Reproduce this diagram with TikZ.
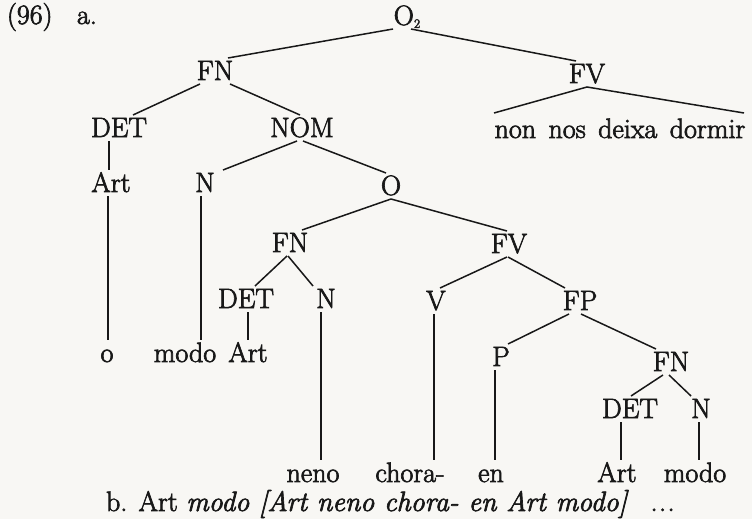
\documentclass[tikz,border=0pt]{standalone}
\usepackage{fontspec}
\setmainfont{Latin Modern Roman}[FakeBold=2.4]
\usetikzlibrary{calc}
\definecolor{paper}{RGB}{248,247,244}
\definecolor{ink}{RGB}{24,24,24}
\begin{document}
\begin{tikzpicture}[x=1pt,y=-1pt,
  lbl/.style={font=\fontsize{28}{32}\selectfont, text=ink, inner sep=3pt, outer sep=0pt,
              text height=19pt, text depth=1pt, anchor=base},
  br/.style={line width=1.5pt, draw=ink}]
\useasboundingbox (0,0) rectangle (752,519);
\fill[paper] (0,0) rectangle (752,519);

% header
\node[lbl,anchor=base west] (num) at (4,24) {(96)};
\node[lbl,anchor=base west] (alab) at (74,24) {a.};

% tree labels
\node[lbl] (O2) at (407,25) {O\raisebox{-3pt}{\fontsize{13}{13}\selectfont 2}};
\node[lbl] (FN1) at (215,80) {FN};
\node[lbl] (FV1) at (587,83) {FV};
\node[lbl] (nnd) at (620,138) {non\hspace{4pt} nos\hspace{4pt} deixa\hspace{4pt} dormir};
\node[lbl] (DET1) at (119,137) {DET};
\node[lbl] (NOM1) at (302,137) {NOM};
\node[lbl] (Art1) at (111,192) {Art};
\node[lbl] (N1) at (205,192) {N};
\node[lbl] (O) at (391,195) {O};
\node[lbl] (FN2) at (290,252) {FN};
\node[lbl] (FV2) at (509,253) {FV};
\node[lbl] (DET2) at (246,308) {DET};
\node[lbl] (N2) at (326,308) {N};
\node[lbl] (V) at (436,310) {V};
\node[lbl] (FP) at (580,310) {FP};
\node[lbl] (o) at (107,362) {o};
\node[lbl] (modo1) at (185,362) {modo};
\node[lbl] (Art2) at (248,362) {Art};
\node[lbl] (P) at (501,366) {P};
\node[lbl] (FN3) at (671,371) {FN};
\node[lbl] (DET3) at (630,418) {DET};
\node[lbl] (N3) at (701,418) {N};
\node[lbl] (neno) at (313,482) {neno};
\node[lbl] (chora) at (410,482) {chora-};
\node[lbl] (en) at (491,482) {en};
\node[lbl] (Art3) at (617,482) {Art};
\node[lbl] (modo3) at (695,482) {modo};

% b. line
\node[lbl,anchor=base west] (bline) at (103,511)
  {b. Art \textit{modo [Art neno chora- en Art modo]}\hspace{22pt}.\hspace{1.5pt}.\hspace{1.5pt}.};

% branches
\draw[br] ([xshift=-14pt]O2.south) -- ([xshift=13pt]FN1.north);
\draw[br] ([xshift=4pt]O2.south) -- ([xshift=-11pt]FV1.north);
\draw[br] ([xshift=-126pt,yshift=3pt]nnd.north) -- (FV1.south) -- ([xshift=124pt,yshift=3pt]nnd.north);

\draw[br] ([xshift=-15pt]FN1.south) -- ([xshift=14pt]DET1.north);
\draw[br] ([xshift=15pt]FN1.south) -- ([xshift=-2pt]NOM1.north);
\draw[br] ($(DET1.south -| Art1.north)+(-2,0)$) -- ($(Art1.north)+(-2,0)$);
\draw[br] ([xshift=-5pt]NOM1.south) -- ([xshift=18pt]N1.north);
\draw[br] ([xshift=1pt]NOM1.south) -- ([xshift=-5pt]O.north);
\draw[br] ($(Art1.south -| o.north)+(1,0)$) -- ($(o.north)+(1,0)$);
\draw[br] ($(N1.south)+(-4,0)$) -- ($(N1.south |- modo1.north)+(-4,0)$);

\draw[br] (O.south) -- ([xshift=12pt]FN2.north);
\draw[br] (O.south) -- ([xshift=-2pt]FV2.north);
\draw[br] ([xshift=-3pt]FN2.south) -- ([xshift=9pt]DET2.north);
\draw[br] ([xshift=-2pt]FN2.south) -- ([xshift=-13pt]N2.north);
\draw[br] (DET2.south -| Art2.north) -- (Art2.north);
\draw[br] ($(N2.south)+(-5,0)$) -- ($(N2.south |- neno.north)+(-5,0)$);

\draw[br] ([xshift=-2pt]FV2.south) -- ([xshift=4pt]V.north);
\draw[br] ([xshift=-1pt]FV2.south) -- ([xshift=-15pt]FP.north);
\draw[br] ($(V.south)+(-2,0)$) -- ($(V.south |- chora.north)+(-2,0)$);
\draw[br] ([xshift=-11pt]FP.south) -- ([xshift=7pt]P.north);
\draw[br] ([xshift=1pt]FP.south) -- ([xshift=-15pt]FN3.north);
\draw[br] ($(P.south)+(-6,0)$) -- ($(P.south |- en.north)+(-6,0)$);

\draw[br] ([xshift=-8pt]FN3.south) -- ([xshift=1pt]DET3.north);
\draw[br] ([xshift=-2pt]FN3.south) -- ([xshift=-10pt]N3.north);
\draw[br] ($(DET3.south -| Art3.north)+(4,0)$) -- ($(Art3.north)+(4,0)$);
\draw[br] ($(N3.south)+(-2,0)$) -- ($(N3.south |- modo3.north)+(-2,0)$);
\end{tikzpicture}
\end{document}
